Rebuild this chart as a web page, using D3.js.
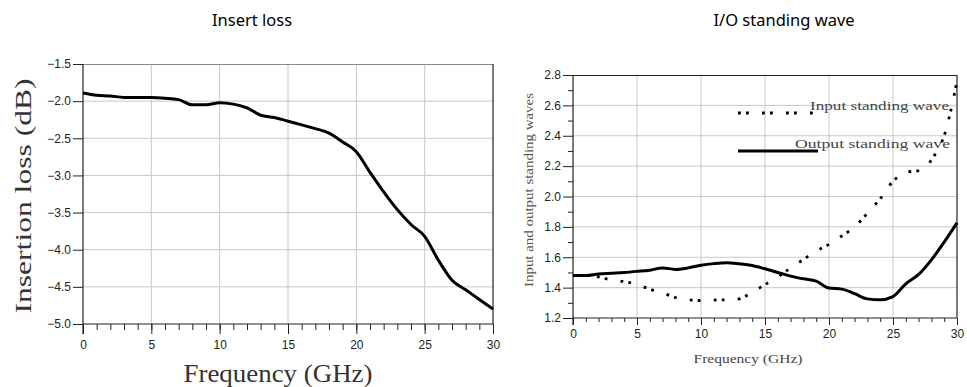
<!DOCTYPE html>
<html>
<head>
<meta charset="utf-8">
<script src="https://cdn.jsdelivr.net/npm/d3@7"></script>
<style>
  body { margin: 0; background: #fff; }
  svg { display: block; }
</style>
</head>
<body>
<svg id="chart" width="967" height="387"></svg>
<script>
(function() {

    // insertion loss, left chart
    var ilFreq = [0, 1, 2, 3, 4, 5, 6, 7, 8, 9, 10, 11, 12, 13, 14, 15, 16, 17, 18, 19, 20, 21, 22, 23, 24, 25, 26, 27, 28, 29, 30];
    var insertLoss = [-1.89, -1.92, -1.93, -1.95, -1.95, -1.95, -1.96, -1.98, -2.05, -2.05, -2.02, -2.04, -2.09, -2.19, -2.22, -2.27, -2.32, -2.37, -2.43, -2.55, -2.68, -2.96, -3.22, -3.46, -3.66, -3.82, -4.14, -4.41, -4.54, -4.67, -4.80];

    // standing waves, right chart
    var inFreq = [0, 1, 2, 3, 4, 5, 6, 7, 8, 9, 10, 11, 12, 13, 14, 15, 16, 17, 18, 19, 20, 21, 22, 23, 24, 25, 26, 27, 28, 28.5, 29, 29.5, 30];
    var inputVswr = [1.48, 1.48, 1.47, 1.45, 1.44, 1.42, 1.39, 1.365, 1.335, 1.32, 1.315, 1.318, 1.32, 1.326, 1.37, 1.42, 1.47, 1.53, 1.585, 1.64, 1.685, 1.74, 1.80, 1.89, 1.985, 2.10, 2.16, 2.17, 2.24, 2.31, 2.40, 2.56, 2.76];
    var outFreq = [0, 1, 2, 3, 4, 5, 6, 7, 8, 9, 10, 11, 12, 13, 14, 15, 16, 17, 18, 19, 20, 21, 22, 23, 24, 25, 26, 27, 28, 29, 30];
    var outputVswr = [1.48, 1.48, 1.49, 1.495, 1.50, 1.507, 1.515, 1.53, 1.52, 1.53, 1.547, 1.558, 1.564, 1.557, 1.546, 1.524, 1.50, 1.476, 1.458, 1.443, 1.397, 1.39, 1.36, 1.326, 1.32, 1.341, 1.425, 1.487, 1.583, 1.70, 1.827];

    var ilTicks = [-1.5, -2.0, -2.5, -3.0, -3.5, -4.0, -4.5, -5.0];
    var vswrTicks = [1.2, 1.4, 1.6, 1.8, 2.0, 2.2, 2.4, 2.6, 2.8];
    var freqTicks = [0, 5, 10, 15, 20, 25, 30];
    var legendLabels = ["Input standing wave", "Output standing wave"];

    var svg = d3.select("#chart");
    var serif = "'Liberation Serif', 'DejaVu Serif', serif";
    var sans = "'Liberation Sans', Arial, sans-serif";

    // panel titles
    svg.append("text").attr("x", 252).attr("y", 26).attr("text-anchor", "middle")
        .attr("font-family", "'Noto Sans', sans-serif").attr("font-size", 16.5).attr("fill", "#000")
        .text("Insert loss");
    svg.append("text").attr("x", 784).attr("y", 26).attr("text-anchor", "middle")
        .attr("font-family", "'Noto Sans', sans-serif").attr("font-size", 16.5).attr("fill", "#000")
        .text("I/O standing wave");

    function styleTicks(s) {
        s.select(".domain").remove();
        s.selectAll("line").attr("stroke", "#222");
        s.selectAll("text").style("font-family", sans).style("font-size", "12px").attr("fill", "#222");
    }

    function frame(g, x, y, w, h, opts) {
        // grid
        g.selectAll(".vg").data(freqTicks.slice(1, -1)).enter().append("line")
            .attr("x1", function(d) { return x(d); }).attr("x2", function(d) { return x(d); })
            .attr("y1", 0).attr("y2", h).attr("stroke", "#c8c8c8").attr("stroke-width", 1);
        g.selectAll(".hg").data(opts.yTicks.slice(1, -1)).enter().append("line")
            .attr("x1", 0).attr("x2", w)
            .attr("y1", function(d) { return y(d); }).attr("y2", function(d) { return y(d); })
            .attr("stroke", "#c8c8c8").attr("stroke-width", 1);
        // borders
        g.append("line").attr("x1", 0).attr("x2", w).attr("y1", 0.5).attr("y2", 0.5)
            .attr("stroke", opts.topColor).attr("stroke-width", 1.2);
        g.append("line").attr("x1", w).attr("x2", w).attr("y1", 0).attr("y2", h)
            .attr("stroke", "#222").attr("stroke-width", 1.2);

        // x axis: minor ticks every GHz, longer ones with labels every 5
        g.append("g").attr("transform", "translate(0," + h + ")")
            .call(d3.axisBottom(x).tickValues(d3.range(0, 31, 1)).tickSize(opts.minorX).tickFormat(""))
            .call(styleTicks);
        g.append("g").attr("transform", "translate(0," + h + ")")
            .call(d3.axisBottom(x).tickValues(freqTicks).tickSize(opts.majorX).tickPadding(opts.xPad))
            .call(styleTicks);
        g.append("line").attr("x1", 0).attr("x2", w).attr("y1", h).attr("y2", h)
            .attr("stroke", "#222").attr("stroke-width", 1.2);

        // y axis
        if (opts.minorY) {
            g.append("g").call(d3.axisLeft(y).tickValues(opts.minorY).tickSize(5).tickFormat(""))
                .call(styleTicks);
        }
        g.append("g").call(d3.axisLeft(y).tickValues(opts.yTicks).tickSize(opts.majorY).tickPadding(2)
                .tickFormat(d3.format(".1f")))
            .call(styleTicks);
        g.append("line").attr("x1", 0).attr("x2", 0).attr("y1", 0).attr("y2", h + opts.majorX)
            .attr("stroke", "#222").attr("stroke-width", 1.2);
    }

    // ---------- left chart ----------
    var L = { left: 83, top: 64, w: 410, h: 260 };
    var xL = d3.scaleLinear().domain([0, 30]).range([0, L.w]);
    var yL = d3.scaleLinear().domain([-5, -1.5]).range([L.h, 0]);
    var gL = svg.append("g").attr("transform", "translate(" + L.left + "," + L.top + ")");
    frame(gL, xL, yL, L.w, L.h, { yTicks: ilTicks.slice().reverse(), topColor: "#888", minorX: 6, majorX: 10, xPad: 6, majorY: 10 });

    var lineL = d3.line().x(function(d, i) { return xL(ilFreq[i]); }).y(function(d) { return yL(d); })
        .curve(d3.curveMonotoneX);
    gL.append("path").datum(insertLoss).attr("d", lineL).attr("fill", "none")
        .attr("stroke", "#000").attr("stroke-width", 3).attr("stroke-linejoin", "round");

    svg.append("text").attr("transform", "translate(31,196) rotate(-90)").attr("text-anchor", "middle")
        .attr("font-family", serif).attr("font-size", 24).attr("fill", "#333")
        .attr("textLength", 235).attr("lengthAdjust", "spacingAndGlyphs")
        .text("Insertion loss (dB)");
    svg.append("text").attr("x", 278).attr("y", 382).attr("text-anchor", "middle")
        .attr("font-family", serif).attr("font-size", 25).attr("fill", "#333")
        .attr("textLength", 189).attr("lengthAdjust", "spacingAndGlyphs")
        .text("Frequency (GHz)");

    // ---------- right chart ----------
    var R = { left: 573, top: 75, w: 384, h: 243 };
    var xR = d3.scaleLinear().domain([0, 30]).range([0, R.w]);
    var yR = d3.scaleLinear().domain([1.2, 2.8]).range([R.h, 0]);
    var gR = svg.append("g").attr("transform", "translate(" + R.left + "," + R.top + ")");
    frame(gR, xR, yR, R.w, R.h, { yTicks: vswrTicks, topColor: "#222", minorX: 4, majorX: 7, xPad: 4, majorY: 10,
        minorY: [1.3, 1.5, 1.7, 1.9, 2.1, 2.3, 2.5, 2.7] });

    var lineIn = d3.line().x(function(d, i) { return xR(inFreq[i]); }).y(function(d) { return yR(d); })
        .curve(d3.curveMonotoneX);
    var lineOut = d3.line().x(function(d, i) { return xR(outFreq[i]); }).y(function(d) { return yR(d); })
        .curve(d3.curveMonotoneX);
    gR.append("path").datum(inputVswr).attr("d", lineIn).attr("fill", "none")
        .attr("stroke", "#000").attr("stroke-width", 2.8).attr("stroke-dasharray", "2.8,5.2,2.8,13.2");
    gR.append("path").datum(outputVswr).attr("d", lineOut).attr("fill", "none")
        .attr("stroke", "#000").attr("stroke-width", 3).attr("stroke-linejoin", "round");

    // legend
    var lg = svg.append("g");
    lg.append("line").attr("x1", 738).attr("x2", 813).attr("y1", 113).attr("y2", 113)
        .attr("stroke", "#000").attr("stroke-width", 2.8).attr("stroke-dasharray", "2.8,5.2,2.8,13.2");
    lg.append("line").attr("x1", 738).attr("x2", 818).attr("y1", 151).attr("y2", 151)
        .attr("stroke", "#000").attr("stroke-width", 3.2);
    lg.append("text").attr("x", 810).attr("y", 110).attr("font-family", serif).attr("font-size", 13)
        .attr("fill", "#444").attr("textLength", 139).attr("lengthAdjust", "spacingAndGlyphs")
        .text(legendLabels[0]);
    lg.append("text").attr("x", 795).attr("y", 148).attr("font-family", serif).attr("font-size", 13)
        .attr("fill", "#444").attr("textLength", 155).attr("lengthAdjust", "spacingAndGlyphs")
        .text(legendLabels[1]);

    svg.append("text").attr("transform", "translate(533,190) rotate(-90)").attr("text-anchor", "middle")
        .attr("font-family", serif).attr("font-size", 12).attr("fill", "#555")
        .attr("textLength", 194).attr("lengthAdjust", "spacingAndGlyphs")
        .text("Input and output standing waves");
    svg.append("text").attr("x", 748).attr("y", 363).attr("text-anchor", "middle")
        .attr("font-family", serif).attr("font-size", 13).attr("fill", "#444")
        .attr("textLength", 109).attr("lengthAdjust", "spacingAndGlyphs")
        .text("Frequency (GHz)");
})();
</script>
</body>
</html>
